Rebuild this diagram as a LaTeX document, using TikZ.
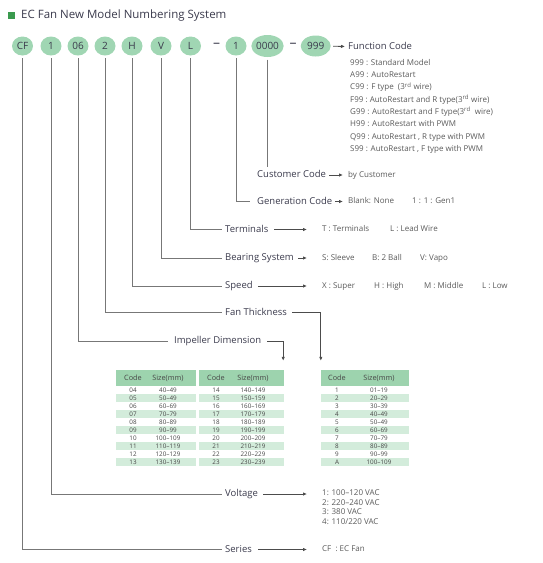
\documentclass[tikz,border=0pt]{standalone}
\usepackage{fontspec}
\setmainfont{Open Sans}
\usepackage{tikz}
\usetikzlibrary{arrows.meta, positioning, shapes.geometric}

\definecolor{ecgreen}{HTML}{3A9A4E}
\definecolor{bubblegreen}{HTML}{A0D6B3}
\definecolor{headgreen}{HTML}{9DD3AE}
\definecolor{rowgreen}{HTML}{D3ECDB}
\definecolor{labtext}{HTML}{3A3A4C}
\definecolor{desctext}{HTML}{5A5A5A}
\definecolor{wiregray}{HTML}{777777}

\begin{document}
\begin{tikzpicture}[x=1pt, y=-1pt,
  bubble/.style={ellipse, fill=bubblegreen, minimum width=21pt, minimum height=19pt, inner sep=0pt, outer sep=2.5pt, font=\fontsize{10}{12}\selectfont, text=labtext},
  field/.style={anchor=west, inner sep=3pt, text height=7pt, text depth=2pt, font=\fontsize{9.5}{11}\selectfont, text=labtext},
  desc/.style={anchor=west, inner sep=0pt, text height=6pt, text depth=1.8pt, font=\fontsize{8}{10}\selectfont, text=desctext},
  wire/.style={draw=wiregray, line width=0.8pt},
  tip/.style={-{Latex[length=4pt,width=3.5pt]}, draw=black!70, line width=0.8pt},
  head/.style={fill=headgreen, minimum height=16pt, inner sep=0pt},
  cell/.style={inner sep=0pt, font=\fontsize{6.3}{7}\selectfont, text=black!72},
  hcell/.style={inner sep=0pt, font=\fontsize{7.3}{8}\selectfont, text=black!72}]

  \useasboundingbox (0,0) rectangle (542,563);

  % title
  \fill[ecgreen] (8,12) rectangle (14.5,18.5);
  \node[anchor=west, inner sep=0pt, font=\fontsize{11.5}{13}\selectfont, text=labtext] (title) at (21,15.5) {EC Fan New Model Numbering System};

  % code bubbles
  \node[bubble] (cf) at (22.5,46) {CF};
  \node[bubble] (c1) at (51,46) {1};
  \node[bubble] (c06) at (78,46) {06};
  \node[bubble] (c2) at (105,46) {2};
  \node[bubble] (cH) at (132,46) {H};
  \node[bubble] (cV) at (161,46) {V};
  \node[bubble] (cL) at (190.5,46) {L};
  \node[text=labtext, inner sep=0pt, font=\fontsize{14}{14}\selectfont] (dash1) at (216.5,45.5) {--};
  \node[bubble] (g1) at (236,46) {1};
  \node[bubble, minimum width=32pt, minimum height=22pt] (c0000) at (267.5,46) {0000};
  \node[text=labtext, inner sep=0pt, font=\fontsize{14}{14}\selectfont] (dash2) at (293,45.5) {--};
  \node[bubble, minimum width=30pt, minimum height=21pt] (f999) at (315.7,46) {999};

  % fields
  \node[field] (func) at (345,47) {Function Code};
  \node[field] (cust) at (254,175) {Customer Code};
  \node[field] (gen) at (254,201.5) {Generation Code};
  \node[field] (term) at (222,229.5) {Terminals};
  \node[field] (bear) at (222,258) {Bearing System};
  \node[field] (speed) at (222,286) {Speed};
  \node[field] (thick) at (222,312.5) {Fan Thickness};
  \node[field] (imp) at (171,341) {Impeller Dimension};
  \node[field] (volt) at (222,494) {Voltage};
  \node[field] (series) at (222,549.5) {Series};

  % descriptions
  \node[desc, anchor=north west, align=left, text height=, text depth=, font=\fontsize{8}{12.3}\selectfont] (funclist) at (350,59) {999 : Standard Model\\
    A99 : AutoRestart\\
    C99 : F type\ \ (3\textsuperscript{rd} wire)\\
    F99 :\ AutoRestart and R type(3\textsuperscript{rd} wire)\\
    G99 : AutoRestart and F type(3\textsuperscript{rd}\ \ wire)\\
    H99 : AutoRestart with PWM\\
    Q99 :\ AutoRestart , R type with PWM\\
    S99 : AutoRestart , F type with PWM};
  \node[desc] (custd) at (348,175) {by Customer};
  \node[desc] (gend) at (348,201.5) {Blank: None};
  \node[desc] (gen1) at (412,201.5) {1 : 1 : Gen1};
  \node[desc] (termT) at (322,229.5) {T : Terminals};
  \node[desc] (termL) at (390,229.5) {L : Lead Wire};
  \node[desc] (bearS) at (322,258) {S: Sleeve};
  \node[desc] (bearB) at (372,258) {B: 2 Ball};
  \node[desc] (bearV) at (420,258) {V: Vapo};
  \node[desc] (spX) at (322,286) {X : Super};
  \node[desc] (spH) at (374,286) {H : High};
  \node[desc] (spM) at (424,286) {M : Middle};
  \node[desc] (spL) at (482,286) {L : Low};
  \node[desc, anchor=north west, align=left, text height=, text depth=, font=\fontsize{8}{9.6}\selectfont] (voltd) at (322,489.5) {1: 100--120 VAC\\
    2: 220--240 VAC\\
    3: 380 VAC\\
    4: 110/220 VAC};
  \node[desc] (seriesd) at (322,549.5) {CF\ \ : EC Fan};

  % arrow ends
  \coordinate (custTip) at (343,175);
  \coordinate (genTip) at (343,201.5);
  \coordinate (termTip) at (307,229.5);
  \coordinate (bearTip) at (307,258);
  \coordinate (speedTip) at (307,286);
  \coordinate (voltTip) at (307,494);
  \coordinate (seriesTip) at (307,549.5);

  % size tables
  \node[head, minimum width=80pt] (tabA) at (156,378) {};
  \node[head, minimum width=85pt] (tabB) at (241.5,378) {};
  \node[head, minimum width=88pt] (tabC) at (365,378) {};
  \node[hcell] at (133,378) {Code};
  \node[hcell] at (168,378) {Size(mm)};
  \node[hcell] at (216,378) {Code};
  \node[hcell] at (253,378) {Size(mm)};
  \node[hcell] at (337,378) {Code};
  \node[hcell] at (379,378) {Size(mm)};
  \foreach \ca/\sa/\cb/\sb/\cc/\sc [count=\i from 0] in {
      04/40--49/14/140--149/1/01--19,
      05/50--49/15/150--159/2/20--29,
      06/60--69/16/160--169/3/30--39,
      07/70--79/17/170--179/4/40--49,
      08/80--89/18/180--189/5/50--49,
      09/90--99/19/190--199/6/60--69,
      10/100--109/20/200--209/7/70--79,
      11/110--119/21/210--219/8/80--89,
      12/120--129/22/220--229/9/90--99,
      13/130--139/23/230--239/A/100--109} {
    \ifodd\i
      \fill[rowgreen] (116,{386.2+8*\i}) rectangle (196,{393.8+8*\i});
      \fill[rowgreen] (199,{386.2+8*\i}) rectangle (284,{393.8+8*\i});
      \fill[rowgreen] (321,{386.2+8*\i}) rectangle (409,{393.8+8*\i});
    \fi
    \node[cell] at (133,{390+8*\i}) {\ca};
    \node[cell] at (168,{390+8*\i}) {\sa};
    \node[cell] at (216,{390+8*\i}) {\cb};
    \node[cell] at (253,{390+8*\i}) {\sb};
    \node[cell] at (337,{390+8*\i}) {\cc};
    \node[cell] at (379,{390+8*\i}) {\sc};
  }

  % Edges
  \draw[wire] (c0000) -- (c0000 |- cust.north);
  \draw[wire, shorten >=4pt] (g1) |- (gen.west);
  \draw[wire] (cL) |- (term.west);
  \draw[wire] (cV) |- (bear.west);
  \draw[wire] (cH) |- (speed.west);
  \draw[wire] (c2) |- (thick.west);
  \draw[wire, shorten >=3pt] (c06) |- (imp.west);
  \draw[wire] (c1) |- (volt.west);
  \draw[wire] (cf) |- (series.west);

  \draw[tip] (f999) -- (func);
  \draw[tip] (cust.east) -- (custTip);
  \draw[tip] (gen.east) -- (genTip);
  \draw[tip, shorten <=3pt] (term.east) -- (termTip);
  \draw[tip, shorten <=1pt] (bear.east) -- (bearTip);
  \draw[tip, shorten <=2pt] (speed.east) -- (speedTip);
  \draw[tip, shorten <=2pt, shorten >=9pt] (thick.east) -| (tabC.north west);
  \draw[tip, shorten <=3pt, shorten >=9pt] (imp.east) -| ([xshift=-1pt]tabB.north east);
  \draw[tip, shorten <=2pt] (volt.east) -- (voltTip);
  \draw[tip, shorten <=3pt] (series.east) -- (seriesTip);

\end{tikzpicture}
\end{document}
